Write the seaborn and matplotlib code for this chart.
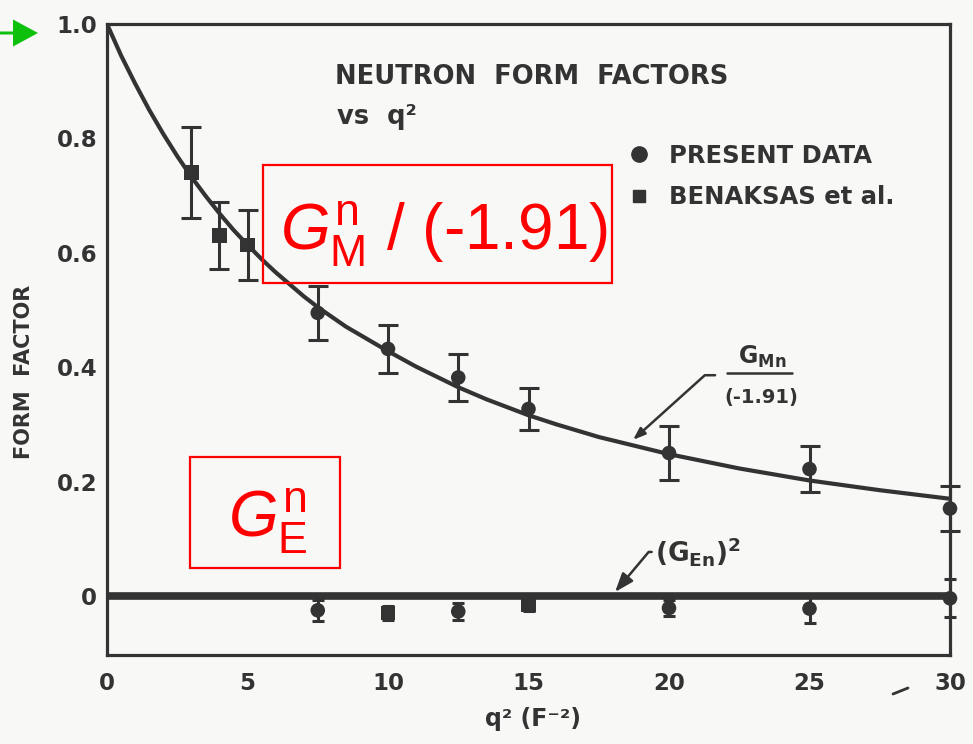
import numpy as np
import pandas as pd
import matplotlib
matplotlib.use("Agg")
import matplotlib.pyplot as plt
import seaborn as sns
from matplotlib.patches import Rectangle, FancyArrow
from matplotlib.lines import Line2D

# ---------------- data ----------------
curve_q2 = [0, 0.5, 1, 1.5, 2, 2.5, 3, 3.5, 4, 4.5, 5, 5.5, 6, 7, 7.5, 8.5, 10,
            11, 12.5, 13.5, 15, 16, 17.5, 20, 22.5, 25, 27.5, 30]
curve_gm = [1.0, 0.945, 0.896, 0.850, 0.808, 0.769, 0.733, 0.700, 0.669, 0.640,
            0.614, 0.589, 0.566, 0.524, 0.505, 0.471, 0.428, 0.401, 0.365, 0.344,
            0.316, 0.300, 0.278, 0.248, 0.223, 0.202, 0.185, 0.170]

ge2_q2 = [0, 30]
ge2 = [0.0, 0.0]

gm_present_q2 = [7.5, 10, 12.5, 15, 20, 25, 30]
gm_present = [0.495, 0.432, 0.382, 0.327, 0.250, 0.222, 0.153]
gm_present_err = [0.047, 0.042, 0.041, 0.037, 0.047, 0.040, 0.040]

gm_benaksas_q2 = [3, 4, 5]
gm_benaksas = [0.740, 0.630, 0.614]
gm_benaksas_err = [0.080, 0.059, 0.061]

ge_present_q2 = [7.5, 12.5, 20, 25, 30]
ge_present = [-0.025, -0.027, -0.021, -0.022, -0.004]
ge_present_err = [0.018, 0.015, 0.014, 0.025, 0.033]

ge_benaksas_q2 = [10, 15]
ge_benaksas = [-0.030, -0.016]
ge_benaksas_err = [0.012, 0.010]

x_ticks = [0, 5, 10, 15, 20, 25, 30]
y_ticks = [0, 0.2, 0.4, 0.6, 0.8, 1.0]
y_tick_labels = ["0", "0.2", "0.4", "0.6", "0.8", "1.0"]

src_present = "PRESENT DATA"
src_benaksas = "BENAKSAS et al."

# ---------------- style ----------------
sns.set_theme(style="white")
ink = "#333333"
bg = "#f8f8f7"
plt.rcParams["font.family"] = ["DejaVu Sans"]
plt.rcParams["mathtext.fontset"] = "custom"
plt.rcParams["mathtext.rm"] = "DejaVu Sans:bold"
plt.rcParams["mathtext.sf"] = "Liberation Sans"
plt.rcParams["mathtext.it"] = "Liberation Sans:italic"
plt.rcParams["mathtext.bf"] = "DejaVu Sans:bold"

W, H = 973, 744
fig = plt.figure(figsize=(W / 100, H / 100), dpi=100, facecolor=bg)
ax = fig.add_axes([107 / W, 89 / H, 843 / W, 631 / H])
ax.set_facecolor(bg)

# curves
sns.lineplot(x=curve_q2, y=curve_gm, ax=ax, color=ink, lw=3.0, zorder=3)
sns.lineplot(x=ge2_q2, y=ge2, ax=ax, color=ink, lw=5.5, zorder=3)

# points
df = pd.concat([
    pd.DataFrame({"q2": gm_present_q2, "val": gm_present, "err": gm_present_err,
                  "source": src_present, "kind": "GM"}),
    pd.DataFrame({"q2": gm_benaksas_q2, "val": gm_benaksas, "err": gm_benaksas_err,
                  "source": src_benaksas, "kind": "GM"}),
    pd.DataFrame({"q2": ge_present_q2, "val": ge_present, "err": ge_present_err,
                  "source": src_present, "kind": "GE"}),
    pd.DataFrame({"q2": ge_benaksas_q2, "val": ge_benaksas, "err": ge_benaksas_err,
                  "source": src_benaksas, "kind": "GE"}),
], ignore_index=True)

for kind, cap in [("GM", 7.0), ("GE", 4.0)]:
    d = df[df.kind == kind]
    ax.errorbar(d.q2, d.val, yerr=d.err, fmt="none", ecolor=ink, elinewidth=2.2,
                capsize=cap, capthick=2.2, zorder=4, clip_on=False)

sns.scatterplot(data=df, x="q2", y="val", style="source",
                markers={src_present: "o", src_benaksas: "s"},
                color=ink, s=110, edgecolor=ink, linewidth=0, ax=ax,
                legend=False, zorder=5, clip_on=False)

# axes
ax.set_xlim(0, 30)
ax.set_ylim(-0.1031, 1.0)
ax.set_xticks(x_ticks)
ax.set_xticklabels([str(t) for t in x_ticks], fontweight="bold")
ax.set_yticks(y_ticks)
ax.set_yticklabels(y_tick_labels, fontweight="bold")
for s in ax.spines.values():
    s.set_color(ink)
    s.set_linewidth(2.3)
ax.tick_params(axis="both", direction="in", colors=ink, labelsize=16.5, width=2.0)
ax.tick_params(axis="x", length=9, pad=12)
ax.tick_params(axis="y", length=6, pad=7)
ax.set_xlabel("q² (F⁻²)", fontsize=17, color=ink, va="top", fontweight="bold")
ax.xaxis.set_label_coords(0.505, -0.082)
ax.set_ylabel("FORM  FACTOR", fontsize=15, color=ink, va="center", fontweight="bold")
ax.yaxis.set_label_coords(-0.099, 0.448)

# title text
def fx(px):
    return px / W

def fy(py):
    return 1 - py / H

fig.text(fx(335), fy(77), "NEUTRON  FORM  FACTORS", fontsize=18.5, color=ink,
         ha="left", va="center", fontweight="bold")
fig.text(fx(337), fy(117), "vs  q²", fontsize=18.5, color=ink, ha="left", va="center",
         fontweight="bold")

# legend
handles = [Line2D([], [], ls="none", marker="o", ms=11, color=ink),
           Line2D([], [], ls="none", marker="s", ms=9, color=ink)]
leg = ax.legend(handles, [src_present, src_benaksas], loc="upper left",
                bbox_to_anchor=(fx(627), fy(144)), bbox_transform=fig.transFigure,
                frameon=False, handlelength=1.0, handletextpad=0.72,
                labelspacing=0.7, borderpad=0, borderaxespad=0,
                prop={"size": 17.5, "weight": "bold"})
for t in leg.get_texts():
    t.set_color(ink)

# annotation for G_Mn/(-1.91)
ax.annotate("", xy=(18.72, 0.273), xytext=(21.64, 0.386),
            arrowprops=dict(arrowstyle="-|>,head_length=0.6,head_width=0.22",
                            color=ink, lw=1.8, shrinkA=0, shrinkB=0,
                            connectionstyle="angle,angleA=0,angleB=42,rad=0"))
fig.text(fx(762), fy(364), r"$\mathrm{G_{Mn}}$", fontsize=17, color=ink,
         ha="center", va="baseline")
fig.add_artist(Line2D([fx(727), fx(792)], [fy(373), fy(373)], color=ink, lw=1.8))
fig.text(fx(761), fy(403), "(-1.91)", fontsize=14, color=ink, ha="center",
         va="baseline", fontweight="bold")

# annotation for (G_En)^2
ax.annotate(r"$\mathrm{(G_{En})^2}$", xy=(18.08, 0.007), xytext=(19.5, 0.077),
            fontsize=19, color=ink, ha="left", va="center",
            arrowprops=dict(arrowstyle="-|>,head_length=0.6,head_width=0.22",
                            color=ink, lw=1.8, shrinkA=0, shrinkB=0,
                            connectionstyle="angle,angleA=0,angleB=50,rad=0"))

# stray scan mark near 30
fig.add_artist(Line2D([fx(893), fx(908)], [fy(694), fy(688)], color=ink, lw=2))

# red overlay boxes
red = "#ff0000"
fig.add_artist(Rectangle((fx(263), fy(283)), 349 / W, 118 / H, transform=fig.transFigure,
                         fill=False, ec=red, lw=1.6))
fig.text(fx(444), fy(250), r"$G^{\mathsf{n}}_{\mathsf{M}}$" + " / (-1.91)",
         fontsize=46, color=red, family="Liberation Sans", fontweight="normal",
         ha="center", va="baseline")
fig.add_artist(Rectangle((fx(190), fy(568)), 150 / W, 111 / H, transform=fig.transFigure,
                         fill=False, ec=red, lw=1.6))
fig.text(fx(268), fy(537), r"$G^{\mathsf{n}}_{\mathsf{E}}$",
         fontsize=46, color=red, family="Liberation Sans", fontweight="normal",
         ha="center", va="baseline")

# green arrow at the 1.0 level
fig.add_artist(FancyArrow(0, (H - 33) / 100, 0.38, 0, width=0.03, head_width=0.27,
                          head_length=0.25, length_includes_head=True,
                          transform=fig.dpi_scale_trans, color="#0cc00c", lw=0))

fig.savefig("out.png", dpi=100, facecolor=bg)
